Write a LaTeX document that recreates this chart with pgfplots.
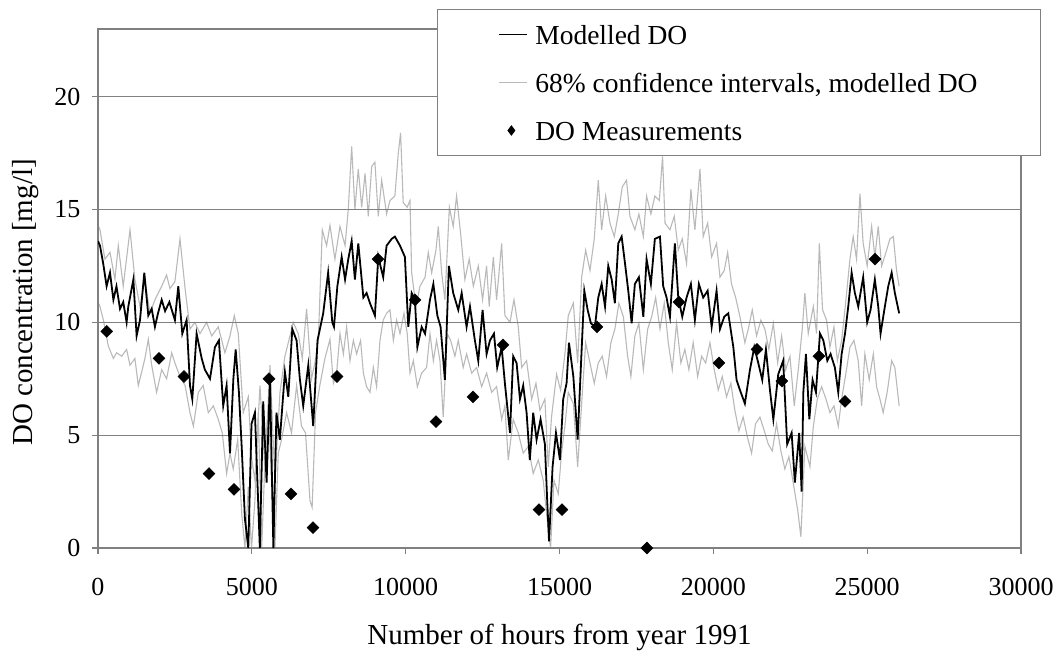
\documentclass[border=0pt]{standalone}
\usepackage{fontspec}
\setmainfont{Liberation Serif}
\usepackage{pgfplots}
\usepackage{pgfplotstable}
\pgfplotsset{compat=1.18}
\definecolor{cigray}{RGB}{185,185,185}
\definecolor{axgray}{RGB}{128,128,128}
\pgfplotsset{
  lineleg/.style={legend image code/.code={\draw[##1] (0pt,0pt) -- (28pt,0pt);}},
  markleg/.style={legend image code/.code={\path[draw=none] (0pt,0pt) -- (28pt,0pt);
      \draw[##1, mark options={scale=0.75}] plot coordinates {(12pt,0pt)};}},
}

% modelled DO (black line)
\pgfplotstableread{
x y
0 13.6
65 13.4
170 12.6
280 11.6
390 12.2
500 11.0
600 11.6
715 10.6
820 10.9
930 10.0
985 10.7
1150 11.9
1255 9.4
1365 10.1
1505 12.2
1635 10.3
1745 10.6
1850 9.8
1950 10.4
2070 11.0
2180 10.5
2320 10.9
2500 10.1
2610 11.6
2740 9.5
2880 10.1
2990 7.2
3065 6.6
3205 9.5
3370 8.4
3475 7.9
3640 7.5
3800 8.9
3930 9.2
4070 6.3
4180 7.2
4290 4.2
4400 7.5
4475 8.8
4580 6.9
4670 4.5
4775 1.3
4885 0
4990 5.5
5100 6.0
5260 0
5370 6.5
5480 2.9
5590 7.5
5700 0
5800 6.0
5910 4.8
6075 7.8
6185 6.7
6315 9.7
6455 9.2
6560 7.5
6670 6.3
6835 8.1
6995 5.4
7135 9.2
7320 10.4
7480 12.2
7615 10.0
7670 9.8
7780 11.6
7920 12.9
8030 11.9
8135 12.8
8245 13.6
8350 11.9
8460 13.5
8625 11.1
8730 11.3
8840 10.85
9000 10.3
9110 12.9
9270 12.0
9380 13.4
9545 13.7
9650 13.8
9815 13.4
9975 12.9
10085 9.8
10195 11.3
10300 11.0
10380 8.9
10520 9.8
10630 9.5
10790 11.0
10900 11.7
11030 10.3
11135 9.8
11275 7.45
11405 12.5
11545 11.3
11710 10.55
11820 11.3
11980 9.8
12090 10.7
12250 9.2
12360 8.3
12500 10.55
12630 8.6
12740 9.2
12870 9.5
12975 8.0
13120 8.9
13225 7.3
13390 5.1
13495 8.5
13605 8.2
13715 6.6
13820 7.2
13930 6.0
14035 3.9
14145 6.0
14255 4.8
14385 5.7
14525 4.6
14600 2.1
14660 0.3
14775 3.6
14885 5.1
15015 3.9
15120 6.6
15230 7.3
15308 9.1
15450 7.6
15590 4.8
15700 8.2
15806 11.4
15915 10.55
16020 9.96
16150 9.8
16260 11.1
16370 11.7
16480 10.7
16585 12.5
16695 11.9
16800 10.85
16910 13.5
17020 13.8
17130 12.6
17235 11.4
17345 9.96
17450 11.7
17580 12.0
17725 10.25
17830 12.8
17970 11.7
18100 13.7
18265 13.8
18370 11.6
18480 11.1
18590 10.25
18750 13.5
18860 11.1
18990 10.25
19130 11.1
19270 11.7
19400 10.1
19530 11.7
19670 11.1
19815 11.4
19945 9.8
20105 11.4
20215 9.7
20355 10.25
20485 10.4
20650 8.9
20755 7.45
20865 7.0
21025 6.4
21190 7.9
21330 8.9
21460 8.2
21590 7.45
21710 8.8
21840 7.0
21950 5.7
22110 7.7
22270 8.3
22400 4.6
22545 5.1
22650 2.9
22790 5.1
22870 2.5
22925 6.9
23010 8.6
23120 5.7
23225 7.45
23335 6.9
23465 9.5
23575 9.2
23705 8.3
23810 8.6
23950 8.0
24060 6.9
24170 8.6
24280 9.5
24385 10.7
24495 12.2
24600 11.3
24710 10.7
24870 12.0
25000 10.0
25110 10.55
25250 11.9
25360 10.7
25435 9.5
25575 10.7
25685 11.6
25795 12.2
25900 11.3
26040 10.4
}\modelled

% upper 68% bound
\pgfplotstableread{
x y
0 14.3
65 14.1
225 12.8
390 13.1
550 11.9
660 13.4
820 11.6
1040 14.1
1200 11.9
1365 10.7
1525 11.9
1690 10.4
1850 11.0
2070 11.6
2230 12.1
2340 11.5
2500 11.8
2665 13.7
2830 11.5
2990 9.7
3150 10.0
3315 9.5
3530 10.0
3695 9.4
3910 9.8
4125 8.65
4290 9.4
4430 10.3
4560 9.5
4720 6.0
4885 6.7
4990 4.0
5100 3.0
5265 7.2
5425 3.5
5590 8.1
5750 3.0
5915 6.9
6075 8.5
6240 9.4
6345 10.0
6510 9.5
6640 8.4
6780 10.6
6940 7.5
7050 8.2
7160 9.2
7290 14.1
7430 13.4
7540 14.3
7700 12.8
7865 14.25
8030 13.4
8135 15.0
8245 17.8
8350 15.0
8460 16.8
8570 15.1
8680 16.6
8785 14.7
8895 16.9
9000 17.1
9110 14.7
9220 16.3
9380 14.8
9490 15.4
9650 15.6
9760 17.5
9835 18.4
9920 15.3
10050 15.1
10140 15.4
10195 12.2
10335 10.7
10465 11.6
10630 12.0
10735 13.1
10845 12.2
10985 13.2
11060 14.25
11170 12.2
11275 11.0
11420 15.1
11545 14.25
11655 15.6
11785 13.95
11925 11.9
12065 12.8
12200 11.6
12360 12.5
12500 11.0
12630 12.5
12715 10.7
12850 12.9
12955 11.0
13120 13.5
13225 10.3
13390 10.0
13520 11.0
13660 9.8
13770 8.0
13930 8.3
14095 6.6
14235 7.3
14365 6.1
14525 6.6
14635 3.6
14740 5.8
14905 7.7
15035 7.0
15175 8.6
15285 10.3
15450 10.85
15590 8.2
15720 12.0
15850 13.2
15990 12.3
16130 13.7
16260 16.3
16370 14.1
16500 15.6
16640 14.4
16780 13.8
16910 14.8
17040 16.0
17180 16.3
17290 14.7
17450 14.1
17580 14.8
17725 13.8
17830 15.6
17970 14.8
18100 15.6
18245 15.4
18350 17.35
18430 14.4
18590 14.1
18730 14.7
18860 13.2
18990 13.7
19130 12.6
19270 15.9
19400 14.1
19565 16.8
19670 13.8
19815 14.4
19945 12.9
20105 13.5
20215 12.0
20355 12.3
20465 13.1
20590 11.7
20725 11.1
20865 10.25
21025 9.1
21135 9.7
21265 10.55
21405 9.4
21545 10.1
21675 9.7
21805 8.8
21950 9.96
22090 8.2
22220 9.4
22350 7.9
22490 8.5
22630 6.3
22760 7.9
22890 9.7
22975 11.3
23085 9.5
23250 10.7
23355 9.5
23445 13.5
23550 10.55
23680 10.1
23790 8.9
23920 9.8
24030 8.3
24170 9.2
24310 11.0
24440 12.8
24545 13.8
24655 12.8
24765 15.7
24870 13.5
25000 12.5
25145 14.25
25250 12.9
25360 14.25
25470 12.5
25610 13.1
25740 13.7
25850 13.8
25955 12.3
26040 11.6
}\upperci

% lower 68% bound
\pgfplotstableread{
x y
0 10.9
65 10.7
175 10.1
335 8.95
500 8.4
605 8.65
770 8.5
930 8.8
1040 8.1
1200 8.4
1310 7.2
1420 7.8
1525 8.4
1635 9.25
1745 8.1
1905 6.9
2070 7.9
2230 7.5
2395 8.65
2500 8.2
2665 7.6
2830 7.2
2990 6.0
3100 5.4
3260 6.9
3420 7.2
3585 6.0
3750 6.3
3910 5.7
4040 5.1
4180 3.3
4290 4.2
4395 3.5
4540 4.8
4670 1.55
4775 0
4885 2.7
4990 0
5100 2.1
5210 6.0
5320 0
5425 3.8
5535 6.3
5640 3.0
5750 0
5860 4.2
5965 4.8
6130 6.0
6290 5.1
6455 7.2
6615 5.4
6745 5.1
6890 2.1
6960 1.8
7070 6.0
7210 7.2
7375 8.4
7540 9.25
7650 7.3
7755 7.75
7865 9.5
7975 8.6
8080 9.8
8190 8.3
8300 9.2
8405 8.6
8535 9.2
8625 7.75
8730 7.15
8840 6.9
8950 8.0
9055 7.15
9165 9.2
9270 10.1
9380 10.4
9490 10.55
9600 9.2
9705 10.1
9815 9.5
9945 10.4
10050 9.5
10140 7.75
10250 8.3
10380 7.15
10520 7.75
10680 8.0
10790 9.5
10900 8.3
11005 9.2
11115 8.3
11220 5.8
11350 9.5
11460 9.2
11600 8.5
11710 9.2
11870 8.0
11980 8.6
12145 7.75
12305 8.0
12470 7.15
12630 7.75
12795 6.9
12955 7.15
13120 5.7
13225 6.3
13335 3.9
13495 5.7
13660 5.1
13820 4.2
13985 4.5
14145 3.3
14310 3.9
14470 3.0
14635 0.8
14710 0
14820 3.0
14960 2.4
15065 4.2
15175 5.4
15285 6.9
15450 6.4
15590 3.6
15720 6.4
15850 9.1
15990 8.2
16130 7.3
16260 8.2
16390 8.5
16530 7.6
16670 9.1
16800 9.7
16930 10.85
17075 10.25
17215 8.5
17320 7.6
17450 9.4
17580 9.96
17725 7.9
17865 9.7
17995 10.25
18125 11.1
18265 9.7
18405 10.85
18535 9.1
18665 7.9
18805 9.96
18945 8.2
19075 8.8
19205 7.9
19345 9.1
19490 7.6
19620 8.5
19750 8.2
19890 9.1
20030 7.9
20160 7.0
20290 7.6
20430 6.7
20570 7.3
20700 6.1
20830 5.2
20970 5.8
21110 4.9
21243 4.2
21370 5.5
21515 5.8
21655 5.2
21785 4.6
21915 4.3
22055 5.5
22195 4.3
22325 3.5
22455 4.05
22595 2.9
22740 1.7
22845 0.5
22975 4.5
23140 3.6
23250 5.4
23380 6.6
23520 7.15
23660 6.6
23790 6.0
23920 6.3
24060 5.4
24170 6.6
24310 7.75
24440 8.9
24570 9.2
24710 8.3
24820 6.3
24925 8.6
25065 7.45
25200 8.6
25305 7.15
25415 6.6
25520 6.0
25650 6.9
25795 8.3
25900 8.0
26040 6.3
}\lowerci

% measurements
\pgfplotstableread{
x y
282 9.6
1983 8.4
2795 7.6
3608 3.3
4420 2.6
5558 7.5
6273 2.4
6988 0.9
7768 7.6
9100 12.8
10303 11.0
10985 5.6
12188 6.7
13163 9.0
14333 1.7
15080 1.7
16218 9.8
17843 0.0
18883 10.9
20183 8.2
21418 8.8
22230 7.4
23433 8.5
24278 6.5
25253 12.8
}\measured

\begin{document}
\begin{tikzpicture}
\begin{axis}[
    set layers,
    scale only axis,
    width=923pt, height=519pt,
    xmin=0, xmax=30000, ymin=0, ymax=23,
    xtick={0,5000,10000,15000,20000,25000,30000},
    ytick={0,5,10,15,20},
    scaled x ticks=false,
    tick pos=left, tick align=outside, major tick length=6pt,
    ymajorgrids,
    major grid style={axgray, line width=1.2pt},
    axis line style={axgray, line width=1.2pt},
    every tick/.style={axgray, line width=1.2pt},
    /pgf/number format/1000 sep={},
    /pgf/number format/assume math mode=true,
    tick label style={font=\fontsize{26}{31}\selectfont},
    xticklabel style={yshift=-21pt},
    yticklabel style={xshift=-8pt},
    label style={font=\fontsize{29}{35}\selectfont},
    xlabel={Number of hours from year 1991},
    ylabel={DO concentration [mg/l]},
    xlabel style={at={([yshift=-96pt]axis description cs:0.5,0)}, anchor=base},
    ylabel style={at={([xshift=-65pt]axis description cs:0,0.473)}, anchor=base},
    clip mode=individual,
    legend cell align=left,
    legend style={at={(axis description cs:0.3673,1.0385)}, anchor=north west,
        draw=axgray, line width=1pt, fill=white,
        font=\fontsize{27.5}{33}\selectfont,
        nodes={inner sep=2pt, text height=24pt, text depth=4pt},
        /tikz/every odd column/.append style={column sep=5pt},
        inner xsep=61pt, inner ysep=9pt, row sep=16pt},
]
\addplot[black, line width=1.8pt, lineleg]
    table[x=x, y=y] {\modelled};
\addlegendentry{Modelled DO}
\addplot[cigray, line width=1.1pt, on layer=axis background, lineleg]
    table[x=x, y=y] {\upperci};
\addlegendentry{68\% confidence intervals, modelled DO}
\addplot[cigray, line width=1.1pt, on layer=axis background, forget plot]
    table[x=x, y=y] {\lowerci};
\addplot[only marks, mark=diamond*, mark size=6pt,
    mark options={black, fill=black, xscale=1.33}, markleg]
    table[x=x, y=y] {\measured};
\addlegendentry{DO Measurements}
\end{axis}
\pgfresetboundingbox
\useasboundingbox (-98pt,-106pt) rectangle (959pt,548pt);
\end{tikzpicture}
\end{document}
